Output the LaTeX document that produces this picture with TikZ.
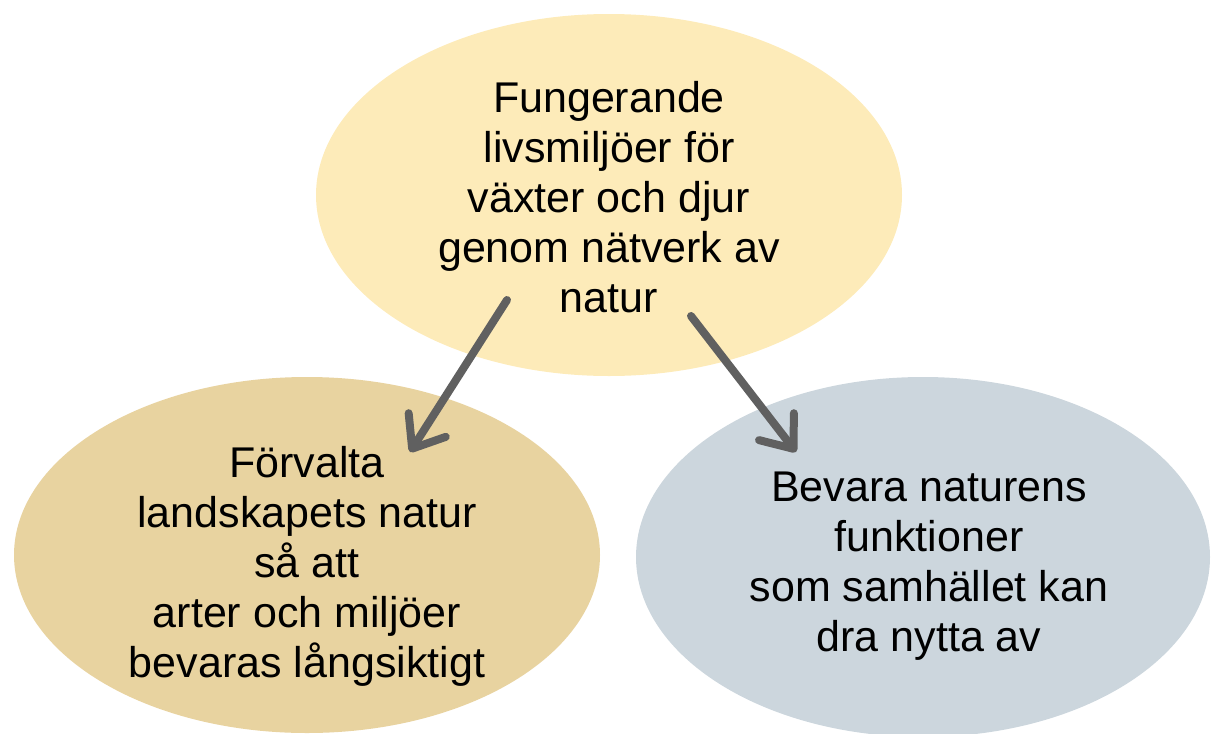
\documentclass[tikz,border=0pt]{standalone}
\usepackage{fontspec}
\setmainfont{Liberation Sans}
\usetikzlibrary{shapes.geometric,arrows.meta}
\definecolor{topfill}{RGB}{253,235,185}
\definecolor{leftfill}{RGB}{232,211,160}
\definecolor{rightfill}{RGB}{204,214,221}
\definecolor{arrowgray}{RGB}{96,96,96}
\tikzset{
  blob/.style={ellipse, inner sep=0pt, draw=none, align=center,
    font=\fontsize{43}{50}\selectfont, text=black},
  flowarrow/.style={draw=arrowgray, line width=8pt, line cap=round,
    -{Straight Barb[length=28pt, width=44pt, round]}}
}
\begin{document}
\begin{tikzpicture}[x=1pt,y=-1pt]
\useasboundingbox (0,0) rectangle (1211,734);
\clip (0,0) rectangle (1211,734);
\node[blob, fill=topfill, minimum width=586pt, minimum height=362pt] (top) at (609,195) {};
\node[blob] (toptext) at (609,197)
  {Fungerande\\livsmiljöer för\\växter och djur\\genom nätverk av\\natur};
\node[blob, fill=leftfill, minimum width=586pt, minimum height=356pt] (left) at (307,555) {};
\node[blob, fill=rightfill, minimum width=574pt, minimum height=360pt] (right) at (923,557) {};
\node[blob] (lefttext) at (307,566)
  {Förvalta\\landskapets natur\\så att\\arter och miljöer\\bevaras långsiktigt};
\node[blob] (righttext) at (929,566)
  {Bevara naturens\\funktioner\\som samhället kan\\dra nytta av};
\coordinate (a1s) at (507,300);
\coordinate (a1e) at (410,452);
\coordinate (a2s) at (691,316);
\coordinate (a2e) at (796,452);
\draw[flowarrow] (a1s) -- (a1e);
\draw[flowarrow] (a2s) -- (a2e);
\end{tikzpicture}
\end{document}
